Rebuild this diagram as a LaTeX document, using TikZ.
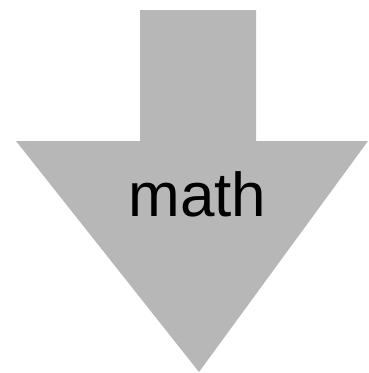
\documentclass[tikz,border=0pt]{standalone}
\usepackage{fontspec}
\setmainfont{Liberation Sans}
\usetikzlibrary{calc}
\definecolor{arrowgray}{RGB}{183,183,183}
\tikzset{
  bigarrow/.style={fill=arrowgray,draw=none},          % block arrow
  label/.style={font=\fontsize{62}{70}\selectfont,text=black,inner sep=0pt,anchor=base},
}
\begin{document}
\begin{tikzpicture}[x=1pt,y=-1pt]
  \useasboundingbox (0,0) rectangle (368,373);
  \fill[bigarrow] (140,10) -- (256,10) -- (256,141) -- (368,141)
    -- (199,372) -- (16,141) -- (140,141) -- cycle;
  \node[label] (math) at (197.5,216) {math};
\end{tikzpicture}
\end{document}
